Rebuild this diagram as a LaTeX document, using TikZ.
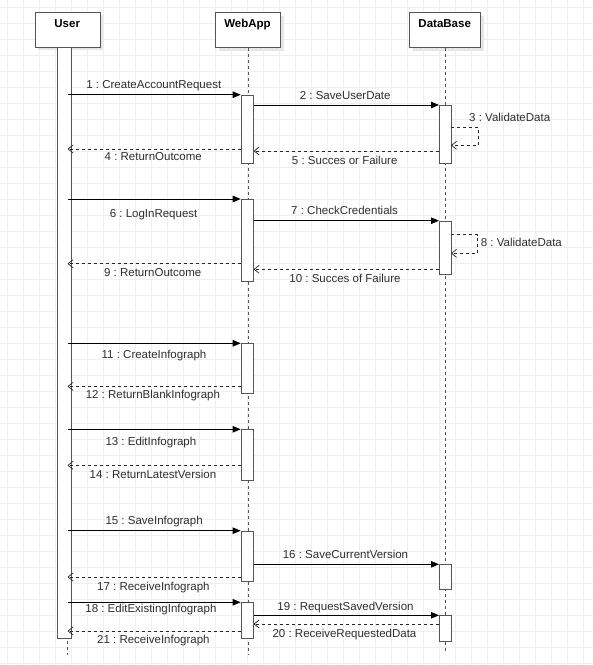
\documentclass[tikz,border=0pt]{standalone}
\usepackage{fontspec}
\setmainfont{Liberation Sans}
\usetikzlibrary{arrows.meta}
\definecolor{gridc}{HTML}{EFEFEF}
\definecolor{txt}{HTML}{2E2E2E}
\definecolor{barc}{HTML}{555555}
\definecolor{shad}{HTML}{E6E6E6}
\frenchspacing
\begin{document}
\begin{tikzpicture}[x=1pt,y=-1pt,
  gridline/.style={gridc,line width=0.9pt},
  head/.style={draw=barc,fill=white,line width=0.9pt,inner sep=0pt,anchor=north west},
  headshadow/.style={fill=shad,draw=none,inner sep=0pt,anchor=north west},
  headtext/.style={font=\fontsize{11.5}{13}\selectfont\bfseries,text=black,anchor=base,inner sep=0pt},
  life/.style={barc,line width=0.9pt,dash pattern=on 3pt off 3pt},
  actbar/.style={draw=barc,fill=white,line width=0.9pt,inner sep=0pt,anchor=north west,minimum width=12pt},
  msg/.style={black,line width=0.8pt,-{Triangle[length=8pt,width=6.5pt]}},
  ret/.style={black!85,line width=0.8pt,dash pattern=on 3pt off 3pt,-{Straight Barb[length=5pt,width=8pt,line width=0.7pt]}},
  lbl/.style={font=\fontsize{11.5}{13}\selectfont,text=txt,anchor=base,inner sep=0pt},
  lbll/.style={lbl,anchor=base west}]
\useasboundingbox (0,0) rectangle (593,665);
\fill[white] (0,0) rectangle (593,665);
% grid
\foreach \i in {0,...,36} \draw[gridline] (7.5+16*\i,0) -- (7.5+16*\i,665);
\foreach \j in {0,...,41} \draw[gridline] (0,7.5+16*\j) -- (593,7.5+16*\j);
% head shadows
\node[headshadow,minimum width=65pt,minimum height=35pt] (ushad) at (38.2,15.2) {};
\node[headshadow,minimum width=65pt,minimum height=35pt] (wshad) at (218.5,15.5) {};
\node[headshadow,minimum width=70.7pt,minimum height=35pt] (dshad) at (412.8,15.5) {};
% heads
\node[head,minimum width=65pt,minimum height=35.3pt] (user) at (34.7,11.7) {};
\node[head,minimum width=65pt,minimum height=35pt] (web) at (215,12) {};
\node[head,minimum width=70.7pt,minimum height=35pt] (db) at (409.3,12) {};
\node[headtext] (userT) at (67.2,27) {User};
\node[headtext] (webT) at (247.5,27) {WebApp};
\node[headtext] (dbT) at (444.7,27) {DataBase};
% lifelines
\coordinate (uend) at (67.5,655);
\coordinate (wend) at (248,655);
\coordinate (dend) at (445.5,653);
\draw[life] (67.5,47) -- (uend);
\draw[life] (web.south -| wend) -- (wend);
\draw[life] (db.south -| dend) -- (dend);
% activation bars
\node[actbar,minimum width=14pt,minimum height=590.7pt] (ub) at (57,47) {};
\node[actbar,minimum height=68pt] (wa1) at (240.7,94.7) {};
\node[actbar,minimum height=57.7pt] (db1) at (439,105) {};
\node[actbar,minimum height=81.7pt] (wa2) at (240.7,199) {};
\node[actbar,minimum height=53.6pt] (db2) at (439,220.7) {};
\node[actbar,minimum height=50pt] (wa3) at (240.7,343.3) {};
\node[actbar,minimum height=50.7pt] (wa4) at (240.7,429.3) {};
\node[actbar,minimum height=50pt] (wa5) at (240.7,530.7) {};
\node[actbar,minimum height=25pt] (db3) at (439,564.3) {};
\node[actbar,minimum height=36pt] (wa6) at (240.7,602.3) {};
\node[actbar,minimum height=25.7pt] (db4) at (439,615.3) {};
% user-side coordinates
\coordinate (u1) at (67.5,94.7);
\coordinate (u4) at (67.5,149);
\coordinate (u6) at (67.5,199);
\coordinate (u9) at (67.5,263.7);
\coordinate (u11) at (67.5,343.3);
\coordinate (u12) at (67.5,386.3);
\coordinate (u13) at (67.5,429.3);
\coordinate (u14) at (67.5,465.3);
\coordinate (u15) at (67.5,530.7);
\coordinate (u17) at (67.5,577);
\coordinate (u18) at (67.5,602.3);
\coordinate (u21) at (67.5,631);
% messages
\draw[msg] (u1) -- (wa1.north west);
\draw[msg] (wa1.east |- db1.north) -- (db1.north west);
\coordinate (s3a) at (451,127.3); \coordinate (s3b) at (478.3,127.3);
\coordinate (s3c) at (478.3,145.3); \coordinate (s3d) at (451,145.3);
\draw[ret] (s3a) -- (s3b) -- (s3c) -- (s3d);
\draw[ret] (wa1.west |- u4) -- (u4);
\draw[ret] (db1.west |- 0,151) -- (wa1.east |- 0,151);
\draw[msg] (u6) -- (wa2.north west);
\draw[msg] (wa2.east |- db2.north) -- (db2.north west);
\coordinate (s8a) at (451,234.7); \coordinate (s8b) at (477.5,234.7);
\coordinate (s8c) at (477.5,253.3); \coordinate (s8d) at (451,253.3);
\draw[ret] (s8a) -- (s8b) -- (s8c) -- (s8d);
\draw[ret] (wa2.west |- u9) -- (u9);
\draw[ret] (db2.west |- 0,269.3) -- (wa2.east |- 0,269.3);
\draw[msg] (u11) -- (wa3.north west);
\draw[ret] (wa3.west |- u12) -- (u12);
\draw[msg] (u13) -- (wa4.north west);
\draw[ret] (wa4.west |- u14) -- (u14);
\draw[msg] (u15) -- (wa5.north west);
\draw[msg] (wa5.east |- db3.north) -- (db3.north west);
\draw[ret] (wa5.west |- u17) -- (u17);
\draw[msg] (u18) -- (wa6.north west);
\draw[msg] (wa6.east |- db4.north) -- (db4.north west);
\draw[ret] (db4.west |- 0,624) -- (wa6.east |- 0,624);
\draw[ret] (wa6.west |- u21) -- (u21);
% labels
\node[lbl] (l1) at (153.8,88.7) {1 : CreateAccountRequest};
\node[lbl] (l2) at (345.2,99.7) {2 : SaveUserDate};
\node[lbll] (l3) at (469,121.7) {3 : ValidateData};
\node[lbl] (l4) at (153.3,160.7) {4 : ReturnOutcome};
\node[lbl] (l5) at (344.7,164) {5 : Succes or Failure};
\node[lbl] (l6) at (153.6,217.3) {6 : LogInRequest};
\node[lbl] (l7) at (344.6,214.7) {7 : CheckCredentials};
\node[lbll] (l8) at (480.7,246.7) {8 : ValidateData};
\node[lbl] (l9) at (152.7,276.3) {9 : ReturnOutcome};
\node[lbl] (l10) at (345,282) {10 : Succes of Failure};
\node[lbl] (l11) at (154,358.7) {11 : CreateInfograph};
\node[lbl] (l12) at (152.9,398.7) {12 : ReturnBlankInfograph};
\node[lbl] (l13) at (150.9,445.3) {13 : EditInfograph};
\node[lbl] (l14) at (153,478) {14 : ReturnLatestVersion};
\node[lbl] (l15) at (154.1,524.7) {15 : SaveInfograph};
\node[lbl] (l16) at (345.5,558.3) {16 : SaveCurrentVersion};
\node[lbl] (l17) at (153.4,590) {17 : ReceiveInfograph};
\node[lbl] (l18) at (150.9,612.7) {18 : EditExistingInfograph};
\node[lbl] (l19) at (345.5,610.7) {19 : RequestSavedVersion};
\node[lbl] (l20) at (344.5,637.3) {20 : ReceiveRequestedData};
\node[lbl] (l21) at (153.4,643.7) {21 : ReceiveInfograph};
\end{tikzpicture}
\end{document}
